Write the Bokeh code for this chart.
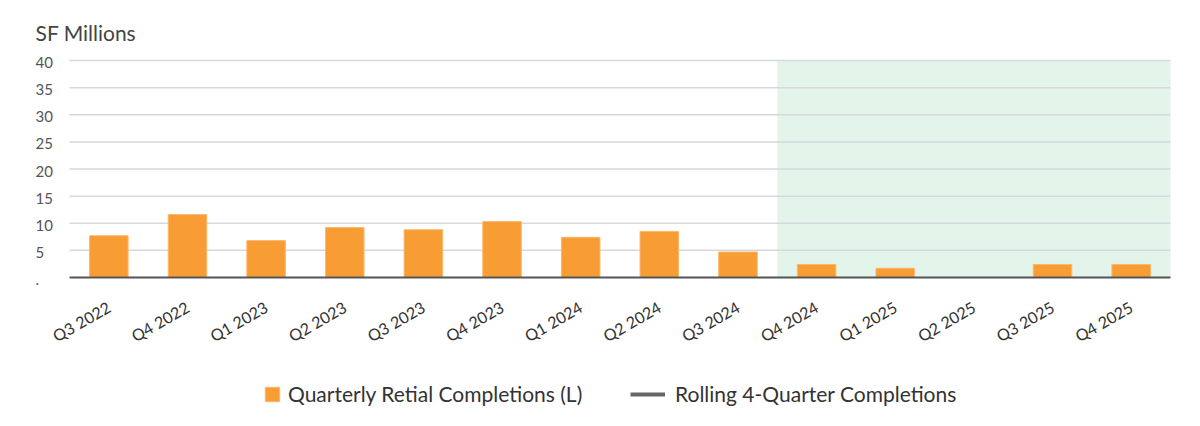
from bokeh.plotting import figure
from bokeh.layouts import column
from bokeh.models import (Range1d, FixedTicker, BoxAnnotation, Legend, LegendItem,
                          ColumnDataSource)
from bokeh.core.properties import value
from bokeh.embed import file_html
from bokeh.resources import INLINE

quarters = ["Q3 2022", "Q4 2022", "Q1 2023", "Q2 2023", "Q3 2023", "Q4 2023",
            "Q1 2024", "Q2 2024", "Q3 2024", "Q4 2024", "Q1 2025", "Q2 2025",
            "Q3 2025", "Q4 2025"]
completions = [7.7, 11.6, 6.8, 9.2, 8.8, 10.3, 7.4, 8.5, 4.7, 2.4, 1.7, 0.0, 2.4, 2.4]
rolling = []  # not drawn in the reference
y_ticks = [0, 5, 10, 15, 20, 25, 30, 35, 40]
y_tick_labels = [".", "5", "10", "15", "20", "25", "30", "35", "40"]
forecast_start = "Q4 2024"
y_title = "SF Millions"
bar_label = "Quarterly Retial Completions (L)"
line_label = "Rolling 4-Quarter Completions"

FONT = "Lato"
BAR_FILL = "#f89c34"
BAR_LINE = "#fbb86a"
ROLL_COLOR = "#666666"
AXIS_COLOR = "#555555"

n = len(quarters)
xc = [i + 0.5 for i in range(n)]          # category centres on a numeric scale
ymax = y_ticks[-1]

p = figure(width=1184, height=375,
           x_range=Range1d(-0.8774, n + 0.178), y_range=Range1d(-2.212, 51.06),
           output_backend="svg", toolbar_location=None,
           min_border_left=0, min_border_right=0, min_border_top=0,
           min_border_bottom=86)
p.outline_line_color = None
p.yaxis.visible = False
p.xgrid.visible = False
p.ygrid.visible = False

# forecast shading
idx = quarters.index(forecast_start)
p.add_layout(BoxAnnotation(left=idx, right=n, bottom=0, top=ymax,
                           fill_color="#e3f4eb", fill_alpha=1, line_color=None,
                           level="image"))

# horizontal grid lines across the category span
p.segment(x0=0, x1=n, y0=y_ticks[1:], y1=y_ticks[1:], line_color="#d5d9dc",
          line_width=1.5)

src = ColumnDataSource(dict(x=xc, v=completions))
bars = p.vbar(x="x", top="v", width=0.49, source=src, fill_color=BAR_FILL,
              line_color=BAR_LINE, line_width=1)
line_src = ColumnDataSource(dict(x=xc[:len(rolling)], v=rolling))
roll = p.line(x="x", y="v", source=line_src, line_color=ROLL_COLOR, line_width=4)

# baseline (zero line) across the categories
p.segment(x0=[0], x1=[n], y0=[0], y1=[0], line_color=AXIS_COLOR, line_width=2)

# y tick labels (left aligned) and title
p.text(x=0, y=y_ticks, text=y_tick_labels, x_offset=-34, y_offset=2,
       text_align="left", text_baseline="middle", text_font=value(FONT),
       text_font_size="15px", text_color="#555555")
p.text(x=[0], y=[ymax], text=[y_title], x_offset=-34, y_offset=-28,
       text_align="left", text_baseline="alphabetic", text_font=value(FONT),
       text_font_size="21px", text_color="#444444")

# x axis (labels only; the zero line is drawn above)
xa = p.xaxis[0]
xa.ticker = FixedTicker(ticks=xc)
xa.major_label_overrides = {x: q for x, q in zip(xc, quarters)}
xa.axis_line_color = None
xa.major_tick_line_color = None
xa.minor_tick_line_color = None
xa.major_label_orientation = 0.52
xa.major_label_standoff = 10
xa.major_label_text_font = FONT
xa.major_label_text_font_size = "16px"
xa.major_label_text_color = "#333333"

# legend strip: proxies share the chart data but sit outside this strip's view
lg = figure(width=1184, height=35, x_range=Range1d(1000, 1001),
            y_range=Range1d(1000, 1001), output_backend="svg",
            toolbar_location=None, min_border_left=0, min_border_right=0,
            min_border_top=0, min_border_bottom=0)
lg.outline_line_color = None
lg.axis.visible = False
lg.grid.visible = False
proxy_bar = lg.vbar(x="x", top="v", width=0.49, source=src, fill_color=BAR_FILL,
                    line_color=BAR_LINE, line_width=1)
proxy_line = lg.line(x="x", y="v", source=src, line_color=ROLL_COLOR, line_width=4)

common = dict(orientation="horizontal", padding=0, margin=0, border_line_color=None,
              background_fill_alpha=0, label_text_font=FONT,
              label_text_font_size="21px", label_text_color="#333333",
              label_height=18, glyph_height=18)
leg1 = Legend(items=[LegendItem(label=bar_label, renderers=[proxy_bar])],
              location=(263, 4), glyph_width=18, label_standoff=7, **common)
leg2 = Legend(items=[LegendItem(label=line_label, renderers=[proxy_line])],
              location=(630, 4), glyph_width=35, label_standoff=10, **common)
lg.add_layout(leg1, "center")
lg.add_layout(leg2, "center")

open("out.html", "w").write(file_html(column(p, lg), INLINE))
